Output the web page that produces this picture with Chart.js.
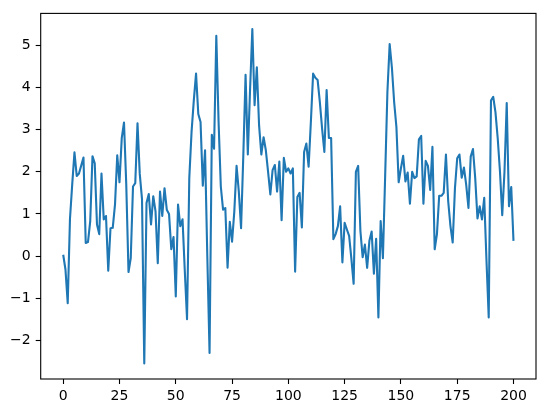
<!DOCTYPE html>
<html>
<head>
<meta charset="utf-8">
<script src="https://cdn.jsdelivr.net/npm/chart.js@4/dist/chart.umd.min.js"></script>
<style>
  html, body { margin: 0; padding: 0; background: #fff; }
  canvas { display: block; }
</style>
</head>
<body>
<canvas id="chart" width="546" height="413" style="width:546px;height:413px"></canvas>
<script>
// values, index 0..200
const values = [
  0.03, -0.32, -1.12, 0.88, 1.7, 2.46, 1.9, 1.96, 2.15, 2.34,
  0.31, 0.33, 0.83, 2.37, 2.2, 0.75, 0.52, 1.96, 0.87, 0.95,
  -0.35, 0.66, 0.67, 1.22, 2.39, 1.75, 2.8, 3.17, 1.7, -0.38,
  -0.05, 1.65, 1.73, 3.15, 1.95, 1.35, -2.55, 1.26, 1.47, 0.75,
  1.42, 1.06, -0.17, 1.53, 0.95, 1.61, 1.1, 1.0, 0.16, 0.45,
  -0.96, 1.22, 0.71, 0.87, -0.35, -1.5, 1.85, 2.94, 3.69, 4.33,
  3.37, 3.18, 1.67, 2.51, 0.0, -2.3, 2.88, 2.55, 5.23, 3.2,
  1.65, 1.1, 1.14, -0.28, 0.81, 0.34, 1.06, 2.14, 1.53, 0.66,
  2.4, 4.3, 2.41, 3.96, 5.39, 3.58, 4.48, 3.1, 2.41, 2.82,
  2.51, 2.0, 1.46, 2.04, 2.16, 1.53, 2.24, 0.85, 2.33, 2.0,
  2.08, 1.96, 2.08, -0.37, 1.4, 1.5, 0.68, 2.47, 2.67, 2.12,
  3.18, 4.33, 4.23, 4.18, 3.65, 3.02, 2.47, 3.94, 2.8, 2.8,
  0.4, 0.52, 0.71, 1.18, -0.15, 0.79, 0.63, 0.48, -0.07, -0.66,
  2.0, 2.14, 0.6, -0.03, 0.27, -0.28, 0.36, 0.58, -0.42, 0.41,
  -1.46, 0.83, -0.05, 1.9, 3.9, 5.03, 4.47, 3.65, 3.06, 1.75,
  2.08, 2.38, 1.77, 1.98, 1.24, 2.0, 1.85, 1.89, 2.77, 2.85,
  1.24, 2.26, 2.14, 1.57, 2.59, 0.16, 0.52, 1.43, 1.43, 1.5,
  2.41, 1.3, 0.71, 0.32, 1.61, 2.32, 2.41, 1.86, 2.1, 1.69,
  1.14, 2.36, 2.54, 1.85, 0.89, 1.18, 0.87, 1.38, -0.1, -1.46,
  3.69, 3.78, 3.41, 2.79, 2.0, 0.97, 2.0, 3.63, 1.18, 1.64,
  0.36
];
const xTicks = [0, 25, 50, 75, 100, 125, 150, 175, 200];
const yTicks = [-2, -1, 0, 1, 2, 3, 4, 5];

const points = values.map((v, i) => ({ x: i, y: v }));

const frame = {
  id: "frame",
  afterDatasetsDraw(chart) {
    const a = chart.chartArea;
    const c = chart.ctx;
    c.save();
    c.strokeStyle = "#000";
    c.lineWidth = 1.1;
    c.strokeRect(a.left, a.top, a.right - a.left, a.bottom - a.top);
    c.restore();
  },
};

function fmt(v) {
  return v < 0 ? "\u2212" + Math.abs(v) : String(v);
}

const axisCommon = {
  grid: {
    display: true,
    drawOnChartArea: false,
    drawTicks: true,
    tickLength: 5,
    tickColor: "#000",
    tickWidth: 1.1,
  },
  border: { display: false },
};

new Chart(document.getElementById("chart").getContext("2d"), {
  type: "line",
  data: {
    datasets: [
      {
        data: points,
        borderColor: "#1f77b4",
        borderWidth: 2.1,
        pointRadius: 0,
        tension: 0,
        fill: false,
        borderJoinStyle: "round",
      },
    ],
  },
  options: {
    animation: false,
    responsive: false,
    devicePixelRatio: 1,
    layout: { padding: { left: 0, right: 10, top: 10.5, bottom: 0 } },
    plugins: { legend: { display: false }, tooltip: { enabled: false } },
    scales: {
      x: {
        ...axisCommon,
        type: "linear",
        min: -10,
        max: 210,
        afterBuildTicks: (s) => { s.ticks = xTicks.map((v) => ({ value: v })); },
        afterFit: (s) => { s.height = 34; },
        ticks: {
          color: "#000",
          padding: 4,
          maxRotation: 0,
          font: { family: "DejaVu Sans", size: 14 },
          callback: (v) => fmt(v),
        },
      },
      y: {
        ...axisCommon,
        min: -2.92,
        max: 5.76,
        afterBuildTicks: (s) => { s.ticks = yTicks.map((v) => ({ value: v })); },
        afterFit: (s) => { s.width = 40.7; },
        ticks: {
          color: "#000",
          padding: 5,
          font: { family: "DejaVu Sans", size: 14 },
          callback: (v) => fmt(v),
        },
      },
    },
  },
  plugins: [frame],
});
</script>
</body>
</html>
